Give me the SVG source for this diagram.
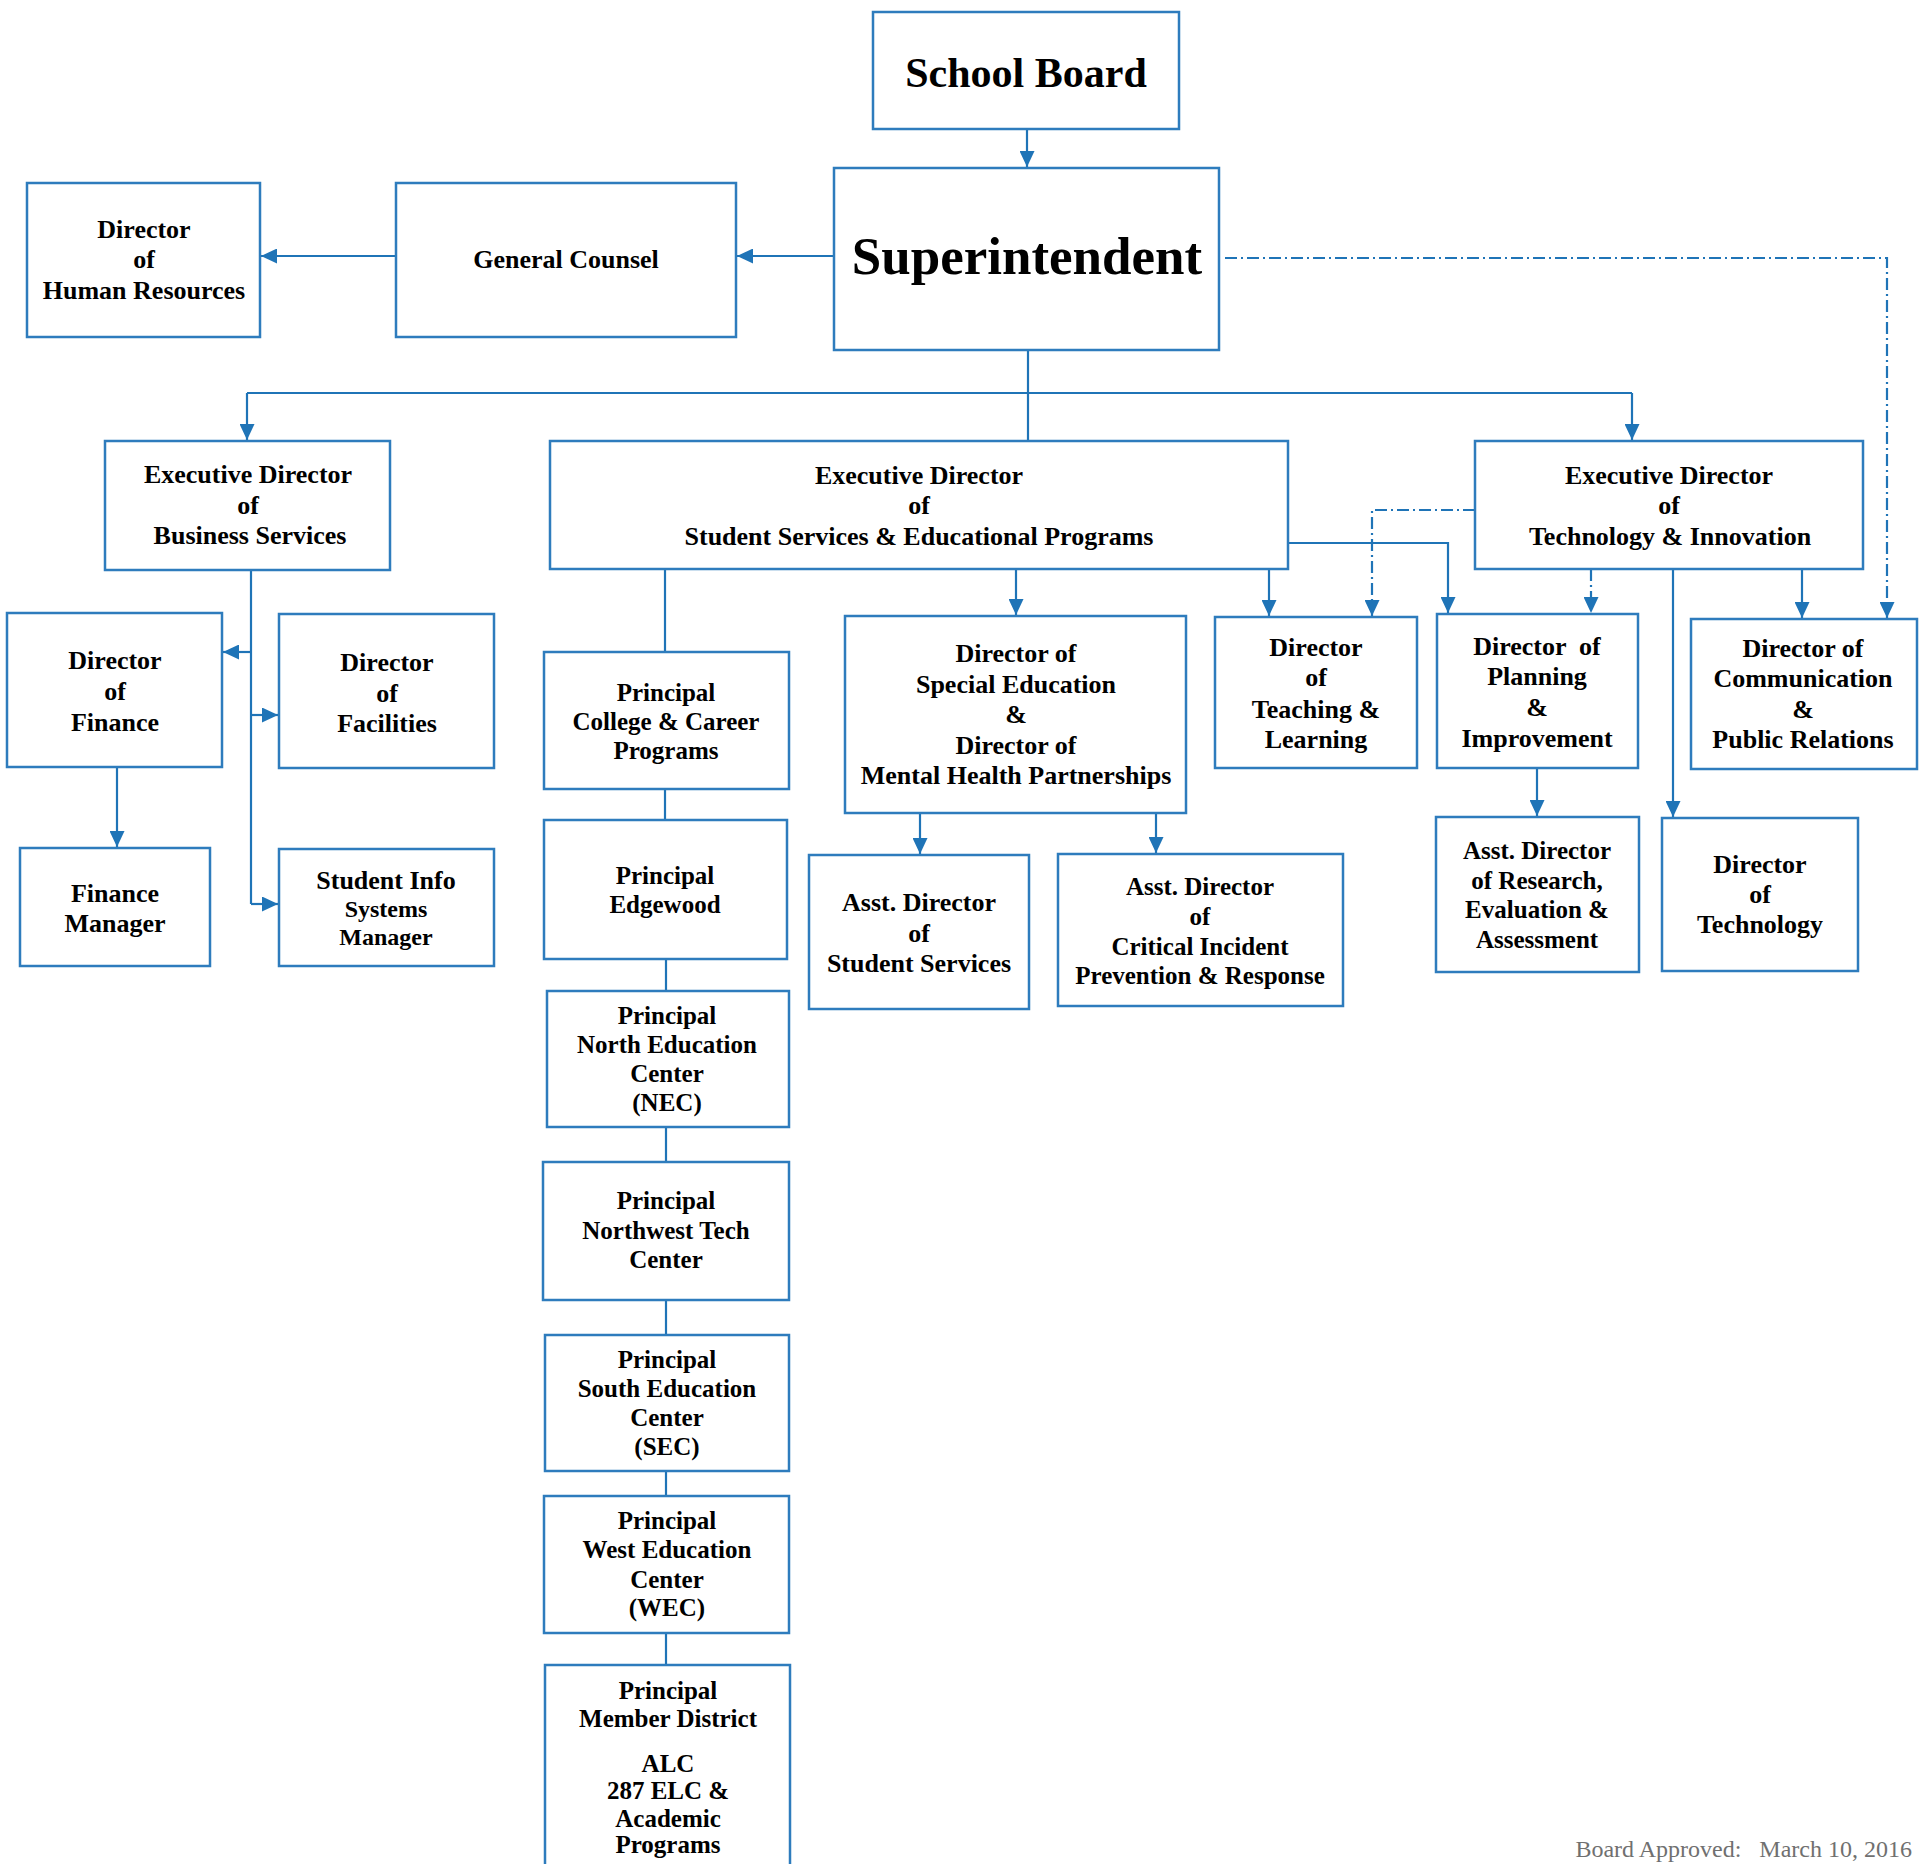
<svg xmlns="http://www.w3.org/2000/svg" width="1927" height="1864" viewBox="0 0 1927 1864">
<style>
.box{fill:#fff;stroke:#2e7cbd;stroke-width:2.5}
.t{font-family:"Liberation Serif","Times New Roman",serif;font-weight:bold;font-size:26px;text-anchor:middle;fill:#000}
.s25{font-size:25px}
.c{fill:none;stroke:#1f74b7;stroke-width:2.2}
.dd{stroke-dasharray:12 4 2 4}
.foot{font-family:"Liberation Serif","Times New Roman",serif;font-size:24px;fill:#707070;text-anchor:end}
</style>
<defs>
<marker id="ah" markerUnits="userSpaceOnUse" markerWidth="16" markerHeight="15" refX="16" refY="7.5" orient="auto">
<path d="M0,0 L16,7.5 L0,15 z" fill="#1f74b7"/>
</marker>
</defs>
<rect width="1927" height="1864" fill="#fff"/>
<g id="connectors">
<path class="c" d="M1027,129 V167" marker-end="url(#ah)"/>
<path class="c" d="M834,256 H737" marker-end="url(#ah)"/>
<path class="c" d="M396,256 H261" marker-end="url(#ah)"/>
<path class="c" d="M1028,350 V441"/>
<path class="c" d="M247,393 H1632"/>
<path class="c" d="M247,393 V440" marker-end="url(#ah)"/>
<path class="c" d="M1632,393 V440" marker-end="url(#ah)"/>
<path class="c dd" d="M1225,258 H1887 V618" marker-end="url(#ah)"/>
<path class="c" d="M251,569 V904"/>
<path class="c" d="M251,652 H223" marker-end="url(#ah)"/>
<path class="c" d="M251,715 H278" marker-end="url(#ah)"/>
<path class="c" d="M251,904 H278" marker-end="url(#ah)"/>
<path class="c" d="M117,767 V847" marker-end="url(#ah)"/>
<path class="c" d="M665,569 V652 M665,789 V820 M666,959 V991 M666,1127 V1162 M666,1300 V1335 M666,1471 V1496 M666,1633 V1665"/>
<path class="c" d="M1016,569 V615" marker-end="url(#ah)"/>
<path class="c" d="M1269,569 V616" marker-end="url(#ah)"/>
<path class="c" d="M1288,543 H1448 V613" marker-end="url(#ah)"/>
<path class="c dd" d="M1475,510 H1372 V616" marker-end="url(#ah)"/>
<path class="c dd" d="M1591,569 V613" marker-end="url(#ah)"/>
<path class="c" d="M1673,569 V817" marker-end="url(#ah)"/>
<path class="c" d="M1802,569 V618" marker-end="url(#ah)"/>
<path class="c" d="M920,813 V854" marker-end="url(#ah)"/>
<path class="c" d="M1156,813 V853" marker-end="url(#ah)"/>
<path class="c" d="M1537,768 V816" marker-end="url(#ah)"/>
</g>
<g id="school-board">
<rect class="box" x="873" y="12" width="306" height="117"/>
<text class="t" x="1026" y="87" style="font-size:42px">School Board</text>
</g>
<g id="superintendent">
<rect class="box" x="834" y="168" width="385" height="182"/>
<text class="t" x="1027" y="274" style="font-size:53px">Superintendent</text>
</g>
<g id="general-counsel">
<rect class="box" x="396" y="183" width="340" height="154"/>
<text class="t" x="566" y="268">General Counsel</text>
</g>
<g id="director-hr">
<rect class="box" x="27" y="183" width="233" height="154"/>
<text class="t" x="144" y="238">Director</text>
<text class="t" x="144" y="268">of</text>
<text class="t" x="144" y="299">Human Resources</text>
</g>
<g id="exec-business">
<rect class="box" x="105" y="441" width="285" height="129"/>
<text class="t" x="248" y="483">Executive Director</text>
<text class="t" x="248" y="514">of</text>
<text class="t" x="250" y="544">Business Services</text>
</g>
<g id="exec-student">
<rect class="box" x="550" y="441" width="738" height="128"/>
<text class="t" x="919" y="484">Executive Director</text>
<text class="t" x="919" y="514">of</text>
<text class="t" x="919" y="545">Student Services &amp; Educational Programs</text>
</g>
<g id="exec-tech">
<rect class="box" x="1475" y="441" width="388" height="128"/>
<text class="t" x="1669" y="484">Executive Director</text>
<text class="t" x="1669" y="514">of</text>
<text class="t" x="1670" y="545">Technology &amp; Innovation</text>
</g>
<g id="director-finance">
<rect class="box" x="7" y="613" width="215" height="154"/>
<text class="t" x="115" y="669">Director</text>
<text class="t" x="115" y="700">of</text>
<text class="t" x="115" y="731">Finance</text>
</g>
<g id="director-facilities">
<rect class="box" x="279" y="614" width="215" height="154"/>
<text class="t" x="387" y="671">Director</text>
<text class="t" x="387" y="702">of</text>
<text class="t" x="387" y="732">Facilities</text>
</g>
<g id="finance-manager">
<rect class="box" x="20" y="848" width="190" height="118"/>
<text class="t" x="115" y="902">Finance</text>
<text class="t" x="115" y="932">Manager</text>
</g>
<g id="student-info">
<rect class="box" x="279" y="849" width="215" height="117"/>
<text class="t" x="386" y="889">Student Info</text>
<text class="t" x="386" y="917" style="font-size:24px">Systems</text>
<text class="t" x="386" y="945" style="font-size:24px">Manager</text>
</g>
<g id="principal-college">
<rect class="box" x="544" y="652" width="245" height="137"/>
<text class="t s25" x="666" y="701">Principal</text>
<text class="t s25" x="666" y="730">College &amp; Career</text>
<text class="t s25" x="666" y="759">Programs</text>
</g>
<g id="principal-edgewood">
<rect class="box" x="544" y="820" width="243" height="139"/>
<text class="t s25" x="665" y="884">Principal</text>
<text class="t s25" x="665" y="913">Edgewood</text>
</g>
<g id="principal-nec">
<rect class="box" x="547" y="991" width="242" height="136"/>
<text class="t s25" x="667" y="1024">Principal</text>
<text class="t s25" x="667" y="1053">North Education</text>
<text class="t s25" x="667" y="1082">Center</text>
<text class="t s25" x="667" y="1111">(NEC)</text>
</g>
<g id="principal-nwtc">
<rect class="box" x="543" y="1162" width="246" height="138"/>
<text class="t s25" x="666" y="1209">Principal</text>
<text class="t s25" x="666" y="1239">Northwest Tech</text>
<text class="t s25" x="666" y="1268">Center</text>
</g>
<g id="principal-sec">
<rect class="box" x="545" y="1335" width="244" height="136"/>
<text class="t s25" x="667" y="1368">Principal</text>
<text class="t s25" x="667" y="1397">South Education</text>
<text class="t s25" x="667" y="1426">Center</text>
<text class="t s25" x="667" y="1455">(SEC)</text>
</g>
<g id="principal-wec">
<rect class="box" x="544" y="1496" width="245" height="137"/>
<text class="t s25" x="667" y="1529">Principal</text>
<text class="t s25" x="667" y="1558">West Education</text>
<text class="t s25" x="667" y="1588">Center</text>
<text class="t s25" x="667" y="1616">(WEC)</text>
</g>
<g id="principal-member">
<rect class="box" x="545" y="1665" width="245" height="220"/>
<text class="t s25" x="668" y="1699">Principal</text>
<text class="t s25" x="668" y="1727">Member District</text>
<text class="t s25" x="668" y="1772">ALC</text>
<text class="t s25" x="668" y="1799">287 ELC &amp;</text>
<text class="t s25" x="668" y="1827">Academic</text>
<text class="t s25" x="668" y="1853">Programs</text>
</g>
<g id="director-special-ed">
<rect class="box" x="845" y="616" width="341" height="197"/>
<text class="t" x="1016" y="662">Director of</text>
<text class="t" x="1016" y="693">Special Education</text>
<text class="t" x="1016" y="723">&amp;</text>
<text class="t" x="1016" y="754">Director of</text>
<text class="t" x="1016" y="784">Mental Health Partnerships</text>
</g>
<g id="asst-student-services">
<rect class="box" x="809" y="855" width="220" height="154"/>
<text class="t" x="919" y="911">Asst. Director</text>
<text class="t" x="919" y="942">of</text>
<text class="t" x="919" y="972">Student Services</text>
</g>
<g id="asst-critical">
<rect class="box" x="1058" y="854" width="285" height="152"/>
<text class="t s25" x="1200" y="895">Asst. Director</text>
<text class="t s25" x="1200" y="925">of</text>
<text class="t s25" x="1200" y="955">Critical Incident</text>
<text class="t s25" x="1200" y="984">Prevention &amp; Response</text>
</g>
<g id="director-teaching">
<rect class="box" x="1215" y="617" width="202" height="151"/>
<text class="t" x="1316" y="656">Director</text>
<text class="t" x="1316" y="686">of</text>
<text class="t" x="1316" y="718">Teaching &amp;</text>
<text class="t" x="1316" y="748">Learning</text>
</g>
<g id="director-planning">
<rect class="box" x="1437" y="614" width="201" height="154"/>
<text class="t" x="1537" y="655" xml:space="preserve">Director  of</text>
<text class="t" x="1537" y="685">Planning</text>
<text class="t" x="1537" y="716">&amp;</text>
<text class="t" x="1537" y="747">Improvement</text>
</g>
<g id="director-communication">
<rect class="box" x="1691" y="619" width="226" height="150"/>
<text class="t" x="1803" y="657">Director of</text>
<text class="t" x="1803" y="687">Communication</text>
<text class="t" x="1803" y="718">&amp;</text>
<text class="t" x="1803" y="748">Public Relations</text>
</g>
<g id="asst-research">
<rect class="box" x="1436" y="817" width="203" height="155"/>
<text class="t s25" x="1537" y="859">Asst. Director</text>
<text class="t s25" x="1537" y="889">of Research,</text>
<text class="t s25" x="1537" y="918">Evaluation &amp;</text>
<text class="t s25" x="1537" y="948">Assessment</text>
</g>
<g id="director-technology">
<rect class="box" x="1662" y="818" width="196" height="153"/>
<text class="t" x="1760" y="873">Director</text>
<text class="t" x="1760" y="903">of</text>
<text class="t" x="1760" y="933">Technology</text>
</g>
<text class="foot" x="1912" y="1857" xml:space="preserve">Board Approved:   March 10, 2016</text>
</svg>
